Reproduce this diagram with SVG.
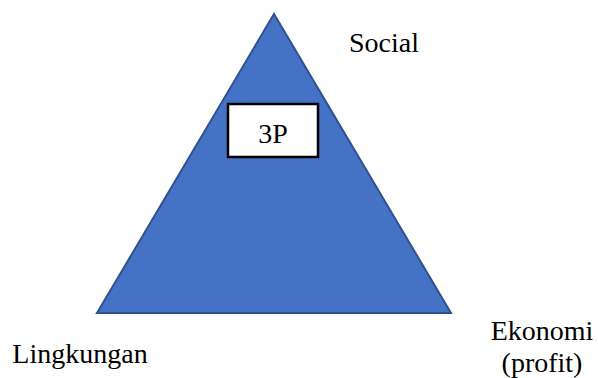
<svg xmlns="http://www.w3.org/2000/svg" width="598" height="378" viewBox="0 0 598 378">
<rect width="598" height="378" fill="#fff"/>
<g id="triangle">
<polygon points="274,14 97,313 451,313" fill="#4472C4" stroke="#2F528F" stroke-width="2" stroke-linejoin="miter"/>
</g>
<g font-family="Liberation Serif, serif" font-size="28" fill="#000" text-anchor="middle">
<g id="box3p">
<rect x="228" y="104" width="90" height="53" fill="#fff" stroke="#000" stroke-width="2.5"/>
<text x="273" y="143">3P</text>
</g>
<g id="social">
<text x="384" y="52">Social</text>
</g>
<g id="lingkungan">
<text x="80" y="363">Lingkungan</text>
</g>
<g id="ekonomi">
<text x="542" y="340">Ekonomi</text>
<text x="542" y="372">(profit)</text>
</g>
</g>
<g id="connectors"/>
</svg>
